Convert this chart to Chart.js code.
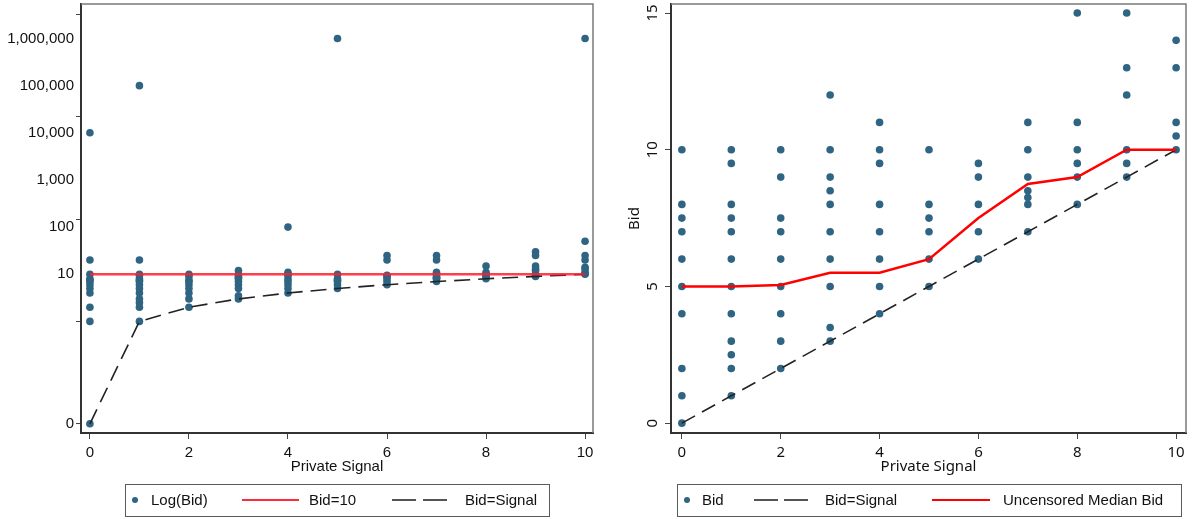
<!DOCTYPE html>
<html>
<head>
<meta charset="utf-8">
<script src="https://cdn.jsdelivr.net/npm/chart.js@4/dist/chart.umd.min.js"></script>
<style>
    html, body { margin: 0; padding: 0; background: #fff; }
    #wrap { position: relative; width: 1192px; height: 519px; }
    #left-chart { position: absolute; left: 0; top: 0; }
    #right-chart { position: absolute; left: 600px; top: 0; }
</style>
</head>
<body>
<div id="wrap">
    <canvas id="left-chart" width="600" height="519"></canvas>
    <canvas id="right-chart" width="592" height="519"></canvas>
</div>
<script>
// private signal values (x)
const signals = [0, 1, 2, 3, 4, 5, 6, 7, 8, 9, 10];

// bids shown in the right panel, one list per signal
const bids = [
    [0, 1, 2, 4, 5, 6, 7, 7.5, 8, 10],
    [1, 2, 2.5, 3, 4, 5, 6, 7, 7.5, 8, 9.5, 10],
    [2, 3, 4, 5, 6, 7, 7.5, 9, 10],
    [3, 3.5, 5, 6, 7, 8, 8.5, 9, 10, 12],
    [4, 5, 6, 7, 8, 9.5, 10, 11],
    [5, 6, 7, 7.5, 8, 10],
    [6, 7, 8, 9, 9.5],
    [7, 8, 8.25, 8.5, 9, 10, 11],
    [8, 9, 9.5, 10, 11, 15],
    [9, 9.5, 10, 12, 13, 15],
    [10, 10.5, 11, 13, 14]
];

// all bids (left panel, log axis), one list per signal
const allBids = [
    [0, 1, 2, 4, 5, 6, 7, 7.5, 8, 10, 20, 10000],
    [1, 2, 2.5, 3, 4, 5, 6, 7, 7.5, 8, 9.5, 10, 20, 100000],
    [2, 3, 4, 5, 6, 7, 7.5, 9, 10],
    [3, 3.5, 5, 6, 7, 8, 8.5, 9, 10, 12],
    [4, 5, 6, 7, 8, 9.5, 10, 11, 100],
    [5, 6, 7, 7.5, 8, 10, 1000000],
    [6, 7, 8, 9, 9.5, 20, 25],
    [7, 8, 8.25, 8.5, 9, 10, 11, 20, 25],
    [8, 9, 9.5, 10, 11, 15],
    [9, 9.5, 10, 12, 13, 15, 25, 30],
    [10, 10.5, 11, 13, 14, 20, 25, 50, 1000000]
];

const medianBids = [5, 5, 5.05, 5.5, 5.5, 6, 7.5, 8.75, 9, 10, 10];
const capBid = 10;

const xTicks = [0, 2, 4, 6, 8, 10];
const leftTickBids = [0, 10, 100, 1000, 10000, 100000, 1000000];
const leftTickLabels = ['0', '10', '100', '1,000', '10,000', '100,000', '1,000,000'];
const leftMarkLogs = [0, 5, 10, 15];
const rightYTicks = [0, 5, 10, 15];
const zeroBidLog = -5;   // where a bid of 0 sits on the log axis

const dotColor = '#2f6482';

function logOf(b) {
    return b > 0 ? Math.log(b) : zeroBidLog;
}

// top and right frame lines of the plot region
const framePlugin = {
    id: 'frame',
    beforeDatasetsDraw(chart) {
        const { ctx, chartArea: a } = chart;
        ctx.save();
        ctx.strokeStyle = '#7a7a7a';
        ctx.lineWidth = 1.5;
        ctx.beginPath();
        ctx.moveTo(a.left, a.top);
        ctx.lineTo(a.right, a.top);
        ctx.lineTo(a.right, a.bottom);
        ctx.stroke();
        ctx.restore();
    }
};

// boxed legend under the plot, like the Stata one
const boxLegendPlugin = {
    id: 'boxLegend',
    afterDraw(chart, args, opts) {
        const ctx = chart.ctx;
        const b = opts.box;
        ctx.save();
        ctx.strokeStyle = '#5a5a5a';
        ctx.lineWidth = 1;
        ctx.strokeRect(b.x + 0.5, b.y + 0.5, b.w, b.h);
        const cy = b.y + b.h / 2;
        ctx.font = '15px "Liberation Sans", Arial, sans-serif';
        ctx.fillStyle = '#111';
        ctx.textBaseline = 'middle';
        opts.items.forEach(it => {
            if (it.kind === 'dot') {
                ctx.beginPath();
                ctx.fillStyle = dotColor;
                ctx.arc(it.x, cy, 3, 0, Math.PI * 2);
                ctx.fill();
            } else {
                ctx.beginPath();
                ctx.strokeStyle = it.color;
                ctx.lineWidth = 2;
                ctx.setLineDash(it.dash || []);
                ctx.moveTo(it.x, cy);
                ctx.lineTo(it.x2, cy);
                ctx.stroke();
                ctx.setLineDash([]);
            }
            ctx.fillStyle = '#111';
            ctx.fillText(it.text, it.tx, cy + 1);
        });
        ctx.restore();
    }
};

function fixedY(width) {
    return scale => {
        scale.width = width;
        scale.paddingTop = 0;
        scale.paddingBottom = 0;
    };
}
function fixedX(height) {
    return scale => {
        scale.height = height;
        scale.paddingLeft = 0;
        scale.paddingRight = 0;
    };
}

// ---------- left: log(bid) ----------
const leftFont = { family: '"Liberation Sans", Arial, sans-serif', size: 15 };

new Chart(document.getElementById('left-chart'), {
    type: 'scatter',
    data: {
        datasets: [
            {
                label: 'Bid=10',
                data: [{ x: signals[0], y: Math.log(capBid) }, { x: signals[signals.length - 1], y: Math.log(capBid) }],
                showLine: true,
                borderColor: 'rgba(255,30,45,0.85)',
                borderWidth: 2.5,
                pointRadius: 0,
                order: 0
            },
            {
                label: 'Bid=Signal',
                data: signals.map(s => ({ x: s, y: logOf(s) })),
                showLine: true,
                borderColor: '#222',
                borderWidth: 1.6,
                borderDash: [16, 8],
                pointRadius: 0,
                order: 1
            },
            {
                label: 'Log(Bid)',
                data: signals.flatMap((s, i) => allBids[i].map(b => ({ x: s, y: logOf(b) }))),
                backgroundColor: dotColor,
                borderWidth: 0,
                pointRadius: 3.8,
                order: 2
            }
        ]
    },
    options: {
        responsive: false,
        animation: false,
        layout: { padding: { left: 0, top: 2, right: 7, bottom: 43 } },
        plugins: {
            legend: { display: false },
            tooltip: { enabled: false },
            boxLegend: {
                box: { x: 125, y: 484, w: 424, h: 32 },
                items: [
                    { kind: 'dot', x: 135, tx: 151, text: 'Log(Bid)' },
                    { kind: 'line', x: 242, x2: 299, color: '#ff2a3a', tx: 309, text: 'Bid=10' },
                    { kind: 'line', x: 392, x2: 447, color: '#555', dash: [24, 7], tx: 465, text: 'Bid=Signal' }
                ]
            }
        },
        scales: {
            x: {
                type: 'linear',
                min: -0.18,
                max: 10.16,
                afterBuildTicks: scale => { scale.ticks = xTicks.map(v => ({ value: v })); },
                afterFit: fixedX(43),
                grid: { drawOnChartArea: false, tickLength: 6, tickColor: '#444' },
                border: { color: '#333', width: 2 },
                ticks: { font: leftFont, color: '#111', padding: 5, autoSkip: false, maxRotation: 0 },
                title: { display: true, text: 'Private Signal', font: leftFont, color: '#111', padding: 0 }
            },
            y: {
                type: 'linear',
                min: -5.45,
                max: 15.5,
                afterBuildTicks: scale => {
                    const marks = leftMarkLogs.map(v => ({ value: v, lbl: '', mark: true }));
                    const labelled = leftTickBids.map((b, i) => ({ value: logOf(b), lbl: leftTickLabels[i], mark: b === 0 }));
                    scale.ticks = marks.concat(labelled);
                },
                afterFit: fixedY(81),
                grid: {
                    drawOnChartArea: false,
                    tickLength: 5,
                    tickColor: c => (c.tick && c.tick.mark) ? '#444' : 'rgba(0,0,0,0)'
                },
                border: { color: '#333', width: 2 },
                ticks: {
                    font: leftFont,
                    color: '#111',
                    padding: 2,
                    autoSkip: false,
                    callback: (v, i, ticks) => ticks[i].lbl
                }
            }
        }
    },
    plugins: [framePlugin, boxLegendPlugin]
});

// ---------- right: bid ----------
const rightFont = { family: '"Noto Sans", "Open Sans", sans-serif', size: 15 };

new Chart(document.getElementById('right-chart'), {
    type: 'scatter',
    data: {
        datasets: [
            {
                label: 'Uncensored Median Bid',
                data: signals.map((s, i) => ({ x: s, y: medianBids[i] })),
                showLine: true,
                borderColor: '#ff0000',
                borderWidth: 2.5,
                pointRadius: 0,
                order: 0
            },
            {
                label: 'Bid=Signal',
                data: signals.map(s => ({ x: s, y: s })),
                showLine: true,
                borderColor: '#222',
                borderWidth: 1.6,
                borderDash: [15, 8],
                pointRadius: 0,
                order: 1
            },
            {
                label: 'Bid',
                data: signals.flatMap((s, i) => bids[i].map(b => ({ x: s, y: b }))),
                backgroundColor: dotColor,
                borderWidth: 0,
                pointRadius: 3.8,
                order: 2
            }
        ]
    },
    options: {
        responsive: false,
        animation: false,
        layout: { padding: { left: 0, top: 2, right: 6, bottom: 43 } },
        plugins: {
            legend: { display: false },
            tooltip: { enabled: false },
            boxLegend: {
                box: { x: 77, y: 484, w: 504, h: 32 },
                items: [
                    { kind: 'dot', x: 87, tx: 102, text: 'Bid' },
                    { kind: 'line', x: 154, x2: 208, color: '#555', dash: [24, 6], tx: 225, text: 'Bid=Signal' },
                    { kind: 'line', x: 332, x2: 390, color: '#ff0000', tx: 403, text: 'Uncensored Median Bid' }
                ]
            }
        },
        scales: {
            x: {
                type: 'linear',
                min: -0.22,
                max: 10.2,
                afterBuildTicks: scale => { scale.ticks = xTicks.map(v => ({ value: v })); },
                afterFit: fixedX(43),
                grid: { drawOnChartArea: false, tickLength: 6, tickColor: '#444' },
                border: { color: '#333', width: 2 },
                ticks: { font: rightFont, color: '#111', padding: 5, autoSkip: false, maxRotation: 0 },
                title: { display: true, text: 'Private Signal', font: rightFont, color: '#111', padding: 0 }
            },
            y: {
                type: 'linear',
                min: -0.36,
                max: 15.33,
                afterBuildTicks: scale => { scale.ticks = rightYTicks.map(v => ({ value: v })); },
                afterFit: fixedY(71),
                grid: { drawOnChartArea: false, tickLength: 6, tickColor: '#444' },
                border: { color: '#333', width: 2 },
                ticks: {
                    font: rightFont,
                    color: '#111',
                    padding: 4,
                    autoSkip: false,
                    minRotation: 90,
                    maxRotation: 90,
                    crossAlign: 'center'
                },
                title: { display: true, text: 'Bid', font: rightFont, color: '#111', padding: { top: 26, bottom: 0 } }
            }
        }
    },
    plugins: [framePlugin, boxLegendPlugin]
});
</script>
</body>
</html>
